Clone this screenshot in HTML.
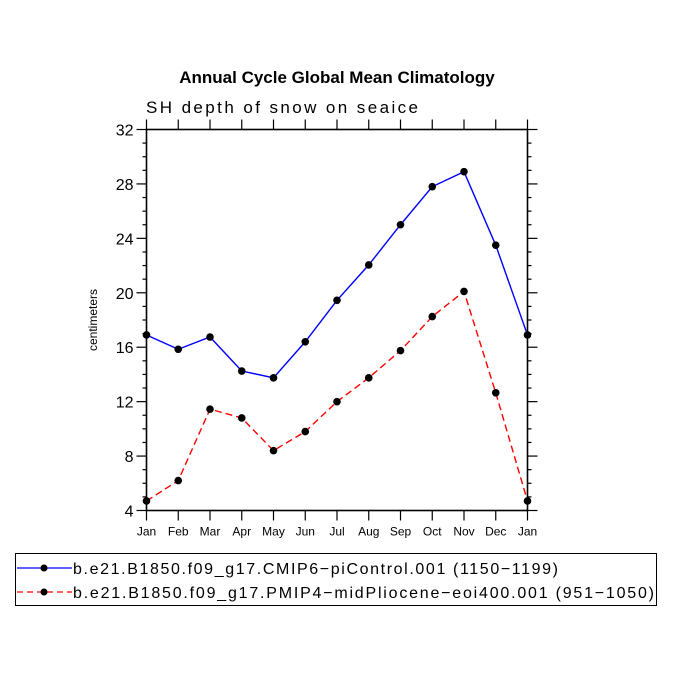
<!DOCTYPE html>
<html><head><meta charset="utf-8"><style>
body{margin:0;background:#fff;}
svg text{font-family:"Liberation Sans",sans-serif;}
</style></head><body>
<svg width="675" height="675">
<text x="337" y="83" text-anchor="middle" font-size="17" font-weight="bold">Annual Cycle Global Mean Climatology</text>
<text x="146" y="113" font-size="17" textLength="272" lengthAdjust="spacing">SH depth of snow on seaice</text>
<text transform="translate(97,320) rotate(-90)" text-anchor="middle" font-size="12">centimeters</text>
<g id="axes"></g>
<g id="series"></g>
<g>
<rect x="15.5" y="553.5" width="641" height="52" fill="none" stroke="#000"/>
<g>
<line x1="17" y1="568" x2="72" y2="568" stroke="#00f" stroke-width="1.3"/>
<circle cx="44" cy="568" r="3.5" fill="#000"/>
<text x="73" y="574" font-size="16" textLength="485" lengthAdjust="spacing">b.e21.B1850.f09_g17.CMIP6−piControl.001 (1150−1199)</text>
</g>
<g>
<line x1="17" y1="592" x2="72" y2="592" stroke="#f00" stroke-width="1.3" stroke-dasharray="6,4"/>
<circle cx="44" cy="592" r="3.5" fill="#000"/>
<text x="73" y="598" font-size="16" textLength="581" lengthAdjust="spacing">b.e21.B1850.f09_g17.PMIP4−midPliocene−eoi400.001 (951−1050)</text>
</g>
</g>
</svg>
<script>
const months=["Jan","Feb","Mar","Apr","May","Jun","Jul","Aug","Sep","Oct","Nov","Dec","Jan"];
const piControl=[16.9,15.85,16.75,14.25,13.75,16.4,19.45,22.05,25.0,27.8,28.9,23.5,16.9];
const midPliocene=[4.7,6.2,11.45,10.8,8.4,9.8,12.0,13.75,15.75,18.25,20.1,12.65,4.7];
const yTicks=[4,8,12,16,20,24,28,32];
const L=146.5,R=527.5,T=129.5,B=510.5,yMin=4,yMax=32;
const xs=i=>L+(R-L)*i/(months.length-1);
const ys=v=>B-(B-T)*(v-yMin)/(yMax-yMin);
const NS="http://www.w3.org/2000/svg";
function mk(parent,tag,attrs){const e=document.createElementNS(NS,tag);for(const k in attrs)e.setAttribute(k,attrs[k]);parent.appendChild(e);return e;}
const ax=document.getElementById('axes');
const fr=mk(ax,'rect',{x:L,y:T,width:R-L,height:B-T,fill:'none',stroke:'#000','stroke-width':1.6});


for(let v=yMin;v<=yMax;v++){
  const major=yTicks.includes(v);const len=major?10:4;const y=ys(v);
  mk(ax,'line',{x1:L-len,y1:y,x2:L,y2:y,stroke:'#000','stroke-width':1.2});
  mk(ax,'line',{x1:R,y1:y,x2:R+len,y2:y,stroke:'#000','stroke-width':1.2});
}
yTicks.forEach(v=>{
  const t=mk(ax,'text',{x:L-13,y:ys(v)+6,'text-anchor':'end','font-size':16});
  t.textContent=v;
  
  
});
months.forEach((m,i)=>{
  const x=xs(i);
  mk(ax,'line',{x1:x,y1:T-10,x2:x,y2:T,stroke:'#000','stroke-width':1.2});
  mk(ax,'line',{x1:x,y1:B,x2:x,y2:B+10,stroke:'#000','stroke-width':1.2});
  const t=mk(ax,'text',{x:x,y:B+14+11,'text-anchor':'middle','font-size':12});
  t.textContent=m;
  
  
});
const sg=document.getElementById('series');
function series(data,color,dash,name){
  const g=mk(sg,'g',{});
  
  
  const a={points:data.map((v,i)=>xs(i)+','+ys(v)).join(' '),fill:'none',stroke:color,'stroke-width':1.4};
  if(dash)a['stroke-dasharray']=dash;
  const pl=mk(g,'polyline',a);
  
  
  data.forEach((v,i)=>{
    const c=mk(g,'circle',{cx:xs(i),cy:ys(v),r:3.8,fill:'#000'});
    
    
  });
}
series(piControl,'#00f',null,'picontrol-series');
series(midPliocene,'#f00','7,4','midpliocene-series');
</script>
</body></html>
